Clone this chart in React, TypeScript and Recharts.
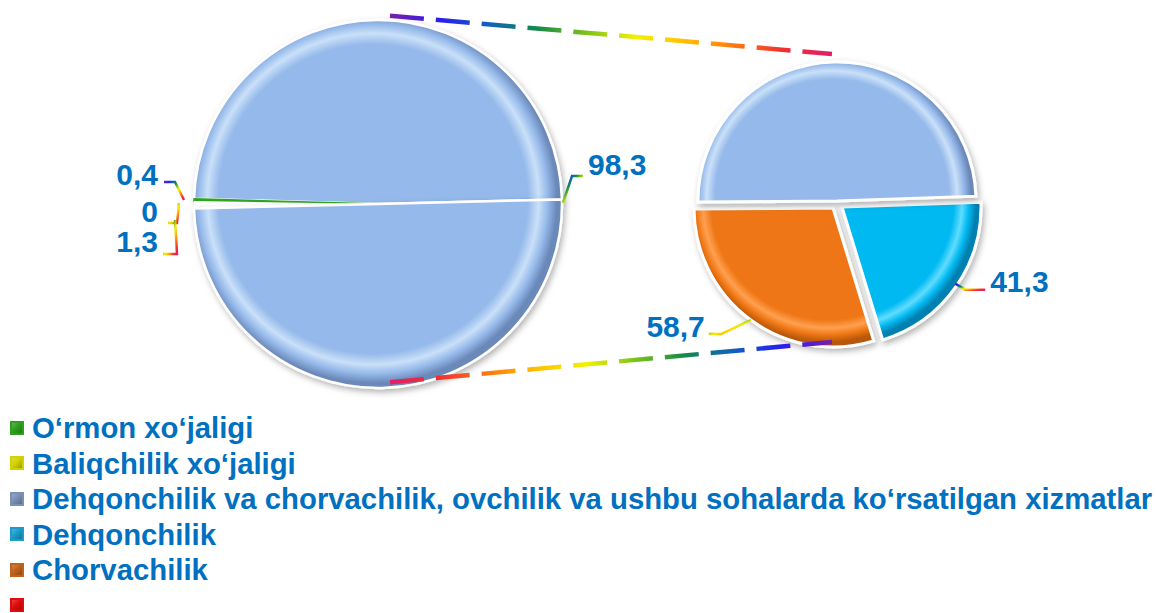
import React from 'react';
import { PieChart, Pie, Cell } from 'recharts';

// legend (order as in the original)
const legendNames = [
  'O‘rmon xo‘jaligi',
  'Baliqchilik xo‘jaligi',
  'Dehqonchilik va chorvachilik, ovchilik va ushbu sohalarda ko‘rsatilgan xizmatlar',
  'Dehqonchilik',
  'Chorvachilik',
  '',
];
const legendColors = ['#2f9f1f', '#d2d200', '#7a90b4', '#1b9cc9', '#c0621c', '#e00c0c'];

// primary pie
const leftNames = [
  'Dehqonchilik va chorvachilik, ovchilik va ushbu sohalarda ko‘rsatilgan xizmatlar',
  'O‘rmon xo‘jaligi',
  'Baliqchilik xo‘jaligi',
  '',
];
const leftValues = [98.3, 0.4, 0, 1.3];

// secondary pie
const rightNames = [
  'Dehqonchilik',
  'Chorvachilik',
  'Dehqonchilik va chorvachilik, ovchilik va ushbu sohalarda ko‘rsatilgan xizmatlar',
];
const rightValues = [41.3, 58.7, 98.3];

const W = 1156;
const H = 613;
const L = { cx: 373, cy: 199, r: 184 };
const R = { cx: 832, cy: 196, r: 139 };
const TEXT = '#0070c0';
const FONT = '"Liberation Sans", Arial, sans-serif';
const RAD = Math.PI / 180;

// pie-of-pie: the "other" slice of the primary pie is the sum of the split-off items
const otherValue = rightValues[0] + rightValues[1];
const leftData = [
  ...leftNames.map((name, i) => ({ name, value: leftValues[i] })),
  { name: 'Boshqa', value: otherValue },
];
const rightData = rightNames.map((name, i) => ({ name, value: rightValues[i] }));

const leftFills = ['url(#gBlueL)', '#2fa51f', '#e0e000', '#ffffff', 'url(#gBlueL)'];
const leftStrokes = ['#ffffff', '#2fa51f', 'none', 'none', '#ffffff'];
const rightFills = ['url(#gCyan)', 'url(#gOrange)', 'url(#gBlueR)'];
const rightShift = [
  [5, 6],
  [-4, 7],
  [0, 0],
];

const fmt = (v: number) => (v === 0 ? '0' : String(v).replace('.', ','));

const labelText = {
  fill: TEXT,
  fontFamily: FONT,
  fontWeight: 700,
  fontSize: 30,
};

const leader = {
  fill: 'none',
  stroke: 'url(#rainbow)',
  strokeWidth: 2.5,
};

const renderLeftLabel = (p: any) => {
  const { cx, cy, outerRadius, index, value } = p;
  if (index === 4) return null;
  const txt = fmt(value);
  if (index === 0) {
    const x0 = cx + outerRadius;
    return (
      <g>
        <polyline {...leader} points={`${x0 + 1},${cy - 1} ${x0 + 10},${cy - 28} ${x0 + 21},${cy - 28}`} />
        <text {...labelText} x={x0 + 26} y={cy - 29}>{txt}</text>
      </g>
    );
  }
  const x0 = cx - outerRadius;
  // manual label layout for the thin slices stacked at the left edge
  const spots: Record<number, { base: number; pts: number[][] }> = {
    1: { base: -19, pts: [[-30, -22], [-19, -22], [-10, -4]] },
    2: { base: 18, pts: [[-26, 19], [-17, 19], [-15, -1]] },
    3: { base: 48, pts: [[-31, 50], [-17, 50], [-19, 16]] },
  };
  const s = spots[index];
  return (
    <g>
      <polyline {...leader} points={s.pts.map(([dx, dy]) => `${x0 + dx},${cy + dy}`).join(' ')} />
      <text {...labelText} x={x0 - 36} y={cy + s.base} textAnchor="end">{txt}</text>
    </g>
  );
};

const renderRightLabel = (p: any) => {
  const { cx, cy, outerRadius, midAngle, index, value } = p;
  if (index === 2) return null;
  const px = cx + outerRadius * Math.cos(-midAngle * RAD) + rightShift[index][0];
  const py = cy + outerRadius * Math.sin(-midAngle * RAD) + rightShift[index][1];
  const txt = fmt(value);
  if (px > cx) {
    return (
      <g>
        <polyline {...leader} points={`${px},${py - 4} ${px + 10},${py + 2} ${px + 30},${py + 2}`} />
        <text {...labelText} x={px + 35} y={py + 4}>{txt}</text>
      </g>
    );
  }
  return (
    <g>
      <polyline {...leader} points={`${px},${py} ${px - 30},${py + 14} ${px - 42},${py + 14}`} />
      <text {...labelText} x={px - 46} y={py + 17} textAnchor="end">{txt}</text>
    </g>
  );
};

const rim = (id: string, c: { cx: number; cy: number; r: number }, base: string, light: string, dark: string) => (
  <radialGradient id={id} gradientUnits="userSpaceOnUse" cx={c.cx} cy={c.cy} r={c.r}>
    <stop offset="0" stopColor={base} />
    <stop offset="0.84" stopColor={base} />
    <stop offset="0.9" stopColor={light} />
    <stop offset="0.95" stopColor={base} />
    <stop offset="1" stopColor={dark} />
  </radialGradient>
);

const rainbowStops = ['#7a1fa8', '#2a1cf0', '#1060c0', '#138a48', '#7cc21a', '#f4f000', '#ffc000', '#ff7a10', '#f03030', '#e0206a'];

const Connectors = () => {
  const a = 84.7 * RAD;
  const lines = [
    { id: 'rbTop', x1: L.cx + L.r * Math.cos(a), y1: L.cy - L.r * Math.sin(a), x2: R.cx, y2: R.cy - R.r - 3, rev: false },
    { id: 'rbBot', x1: L.cx + L.r * Math.cos(a), y1: L.cy + L.r * Math.sin(a), x2: R.cx, y2: R.cy + R.r + 7, rev: true },
  ];
  return (
    <svg width={W} height={400} style={{ position: 'absolute', left: 0, top: 0, pointerEvents: 'none' }}>
      <defs>
        {lines.map((l) => (
          <linearGradient key={l.id} id={l.id} gradientUnits="userSpaceOnUse" x1={l.x1} y1={l.y1} x2={l.x2} y2={l.y2}>
            {(l.rev ? [...rainbowStops].reverse() : rainbowStops).map((c, i) => (
              <stop key={i} offset={i / (rainbowStops.length - 1)} stopColor={c} />
            ))}
          </linearGradient>
        ))}
      </defs>
      {lines.map((l) => (
        <line key={l.id} x1={l.x1} y1={l.y1} x2={l.x2} y2={l.y2} stroke={`url(#${l.id})`} strokeWidth={4.5} strokeDasharray="34 12" />
      ))}
    </svg>
  );
};

export default function App() {
  return (
    <div style={{ position: 'absolute', left: 0, top: 0, width: W, height: H, background: '#fff', overflow: 'hidden' }}>
      <PieChart width={W} height={400} style={{ position: 'absolute', left: 0, top: 0 }}>
        <defs>
          {rim('gBlueL', L, '#95b9ea', '#c9e0f8', '#6a88b8')}
          {rim('gBlueR', R, '#95b9ea', '#c9e0f8', '#6a88b8')}
          {rim('gCyan', R, '#00b9f1', '#60dcff', '#0080b0')}
          {rim('gOrange', R, '#ef7614', '#ffa050', '#b85808')}
          <linearGradient id="rainbow" x1="0" y1="0" x2="1" y2="1">
            {rainbowStops.map((c, i) => (
              <stop key={i} offset={i / (rainbowStops.length - 1)} stopColor={c} />
            ))}
          </linearGradient>
          <filter id="shade" x="-10%" y="-10%" width="120%" height="120%">
            <feDropShadow dx="2" dy="3" stdDeviation="3" floodColor="#000" floodOpacity="0.3" />
          </filter>
        </defs>
        <Pie
          data={leftData}
          dataKey="value"
          nameKey="name"
          cx={L.cx}
          cy={L.cy}
          outerRadius={L.r}
          startAngle={1.4}
          endAngle={361.4}
          label={renderLeftLabel}
          labelLine={false}
          isAnimationActive={false}
        >
          {leftData.map((d, i) => (
            <Cell
              key={i}
              fill={leftFills[i]}
              stroke={leftStrokes[i]}
              strokeWidth={i === 1 ? 1.5 : 2.5}
              filter={i === 0 || i === 4 ? 'url(#shade)' : undefined}
            />
          ))}
        </Pie>
        <Pie
          data={rightData}
          dataKey="value"
          nameKey="name"
          cx={R.cx}
          cy={R.cy}
          outerRadius={R.r}
          startAngle={2}
          endAngle={-358}
          label={renderRightLabel}
          labelLine={false}
          isAnimationActive={false}
        >
          {rightData.map((d, i) => (
            <Cell
              key={i}
              fill={rightFills[i]}
              stroke="#ffffff"
              strokeWidth={3}
              transform={`translate(${rightShift[i][0]},${rightShift[i][1]})`}
              filter="url(#shade)"
            />
          ))}
        </Pie>
      </PieChart>
      <Connectors />
      <div style={{ position: 'absolute', left: 10, top: 410, fontFamily: FONT, fontWeight: 700, fontSize: 29.3, color: TEXT }}>
        {legendNames.map((n, i) => (
          <div key={i} style={{ display: 'flex', alignItems: 'center', height: 35.5, whiteSpace: 'nowrap' }}>
            <span
              style={{
                width: 14,
                height: 14,
                marginRight: 8,
                flex: 'none',
                background: `linear-gradient(135deg, #ffffff55, ${legendColors[i]} 45%, #00000055)`,
                backgroundColor: legendColors[i],
                boxShadow: `inset 0 0 0 2px ${legendColors[i]}`,
              }}
            />
            <span style={{ lineHeight: '35px' }}>{n}</span>
          </div>
        ))}
      </div>
    </div>
  );
}
